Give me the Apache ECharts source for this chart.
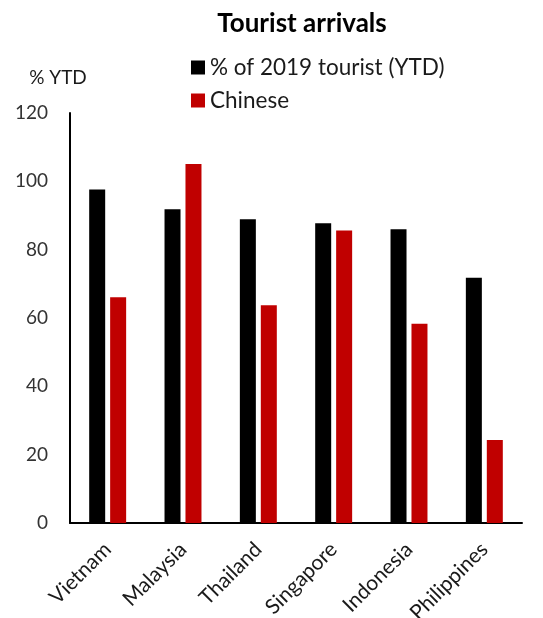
<!DOCTYPE html>
<html>
<head>
<meta charset="utf-8">
<script src="https://cdn.jsdelivr.net/npm/echarts@6/dist/echarts.min.js"></script>
<style>
  html, body { margin: 0; padding: 0; background: #fff; }
  #chart { width: 543px; height: 618px; }
</style>
</head>
<body>
<div id="chart"></div>
<script>
// Tourist arrivals by country, year to date
const countries = ['Vietnam', 'Malaysia', 'Thailand', 'Singapore', 'Indonesia', 'Philippines'];
const pctOf2019 = [97.6, 91.8, 88.9, 87.7, 86.0, 71.8];
const chinese = [66.1, 105.1, 63.7, 85.6, 58.3, 24.3];
const yTicks = [0, 20, 40, 60, 80, 100, 120];

const FONT = 'Lato, "Open Sans", sans-serif';
const chart = echarts.init(document.getElementById('chart'), null, { renderer: 'canvas' });

chart.setOption({
  animation: false,
  backgroundColor: '#ffffff',
  title: {
    text: 'Tourist arrivals',
    left: 297,
    top: 6,
    textAlign: 'center',
    textStyle: { fontFamily: FONT, fontWeight: 'bold', fontSize: 26, color: '#000' }
  },
  legend: {
    orient: 'vertical',
    left: 186,
    top: 51,
    itemWidth: 14,
    itemHeight: 14,
    itemGap: 10,
    icon: 'rect',
    textStyle: { fontFamily: FONT, fontSize: 22.5, color: '#1a1a1a' },
    data: ['% of 2019 tourist (YTD)', 'Chinese']
  },
  grid: { left: 70, right: 21, top: 113, bottom: 95, containLabel: false, outerBoundsMode: 'none' },
  xAxis: {
    type: 'category',
    data: countries,
    axisLine: { show: true, lineStyle: { color: '#000', width: 2 } },
    axisTick: { show: false },
    axisLabel: {
      rotate: 45,
      interval: 0,
      margin: 23,
      fontFamily: FONT,
      fontSize: 21,
      color: '#1a1a1a'
    }
  },
  yAxis: {
    type: 'value',
    min: yTicks[0],
    max: yTicks[yTicks.length - 1],
    interval: yTicks[1] - yTicks[0],
    name: '% YTD',
    nameLocation: 'end',
    nameGap: 26,
    nameTextStyle: { fontFamily: FONT, fontSize: 19, color: '#1a1a1a', align: 'center', padding: [0, 24, 0, 0] },
    axisLine: { show: true, lineStyle: { color: '#000', width: 2 } },
    axisTick: { show: false },
    splitLine: { show: false },
    axisLabel: { margin: 22, fontFamily: FONT, fontSize: 19, color: '#333' }
  },
  series: [
    {
      name: '% of 2019 tourist (YTD)',
      type: 'bar',
      data: pctOf2019,
      barWidth: 16,
      barGap: '31%',
      itemStyle: { color: '#000000' }
    },
    {
      name: 'Chinese',
      type: 'bar',
      data: chinese,
      barWidth: 16,
      itemStyle: { color: '#c00000' }
    }
  ]
});
</script>
</body>
</html>
